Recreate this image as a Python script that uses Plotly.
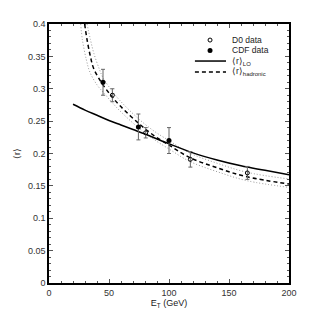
import plotly.graph_objects as go

# ---- data ----
cdf_et = [45.0, 74.5, 100.0]
cdf_r = [0.310, 0.241, 0.220]
cdf_err = [0.020, 0.020, 0.020]

d0_et = [52.8, 80.6, 117.8, 165.3]
d0_r = [0.290, 0.232, 0.191, 0.170]
d0_err = [0.010, 0.008, 0.012, 0.010]

lo_et = [20, 30, 40, 50, 60, 70, 80, 100, 120, 140, 160, 180, 200]
lo_r = [0.276, 0.267, 0.259, 0.251, 0.244, 0.237, 0.230, 0.215, 0.201, 0.190, 0.181, 0.174, 0.167]

had_et = [29.7, 31.7, 34.5, 37.3, 45, 52, 59, 75, 88, 100, 117, 140, 165, 200]
had_r = [0.400, 0.376, 0.350, 0.331, 0.306, 0.289, 0.274, 0.246, 0.227, 0.213, 0.194, 0.178, 0.164, 0.153]

up_et = [31.7, 34.5, 37.5, 42, 45, 52, 59, 75, 88, 100, 117, 140, 165, 200]
up_r = [0.400, 0.376, 0.354, 0.330, 0.317, 0.298, 0.282, 0.253, 0.234, 0.220, 0.201, 0.185, 0.171, 0.1606]

low_et = [26.4, 27.8, 31.1, 34, 40, 45, 52, 59, 75, 88, 100, 117, 140, 165, 200]
low_r = [0.400, 0.376, 0.345, 0.326, 0.306, 0.295, 0.280, 0.266, 0.239, 0.221, 0.207, 0.188, 0.172, 0.158, 0.1477]

x_ticks = [0, 50, 100, 150, 200]
y_ticks = [0, 0.05, 0.1, 0.15, 0.2, 0.25, 0.3, 0.35, 0.4]
y_tick_text = ["0", "0.05", "0.1", "0.15", "0.2", "0.25", "0.3", "0.35", "0.4"]

legend_labels = ["D0 data", "CDF data", "⟨r⟩<sub>LO</sub>", "⟨r⟩<sub>hadronic</sub>"]

fig = go.Figure()

fig.add_trace(go.Scatter(x=up_et, y=up_r, mode="lines",
                         line=dict(color="#999", width=1, dash="1px,2px", shape="spline"),
                         showlegend=False, hoverinfo="skip"))
fig.add_trace(go.Scatter(x=low_et, y=low_r, mode="lines",
                         line=dict(color="#999", width=1, dash="1px,2px", shape="spline"),
                         showlegend=False, hoverinfo="skip"))
fig.add_trace(go.Scatter(x=lo_et, y=lo_r, mode="lines", name="⟨r⟩LO",
                         line=dict(color="black", width=1.5, shape="spline")))
fig.add_trace(go.Scatter(x=had_et, y=had_r, mode="lines", name="⟨r⟩hadronic",
                         line=dict(color="black", width=1.5, dash="4px,3px", shape="spline")))
fig.add_trace(go.Scatter(x=d0_et, y=d0_r, mode="markers", name="D0 data",
                         marker=dict(symbol="circle-open", size=4, color="black", line=dict(width=1)),
                         error_y=dict(type="data", array=d0_err, color="#666", thickness=1, width=2)))
fig.add_trace(go.Scatter(x=cdf_et, y=cdf_r, mode="markers", name="CDF data",
                         marker=dict(symbol="circle", size=5, color="black"),
                         error_y=dict(type="data", array=cdf_err, color="#666", thickness=1, width=2)))

# ---- compact legend (paper coordinates) ----
row_y = [0.938, 0.898, 0.857, 0.815]
sym_x0, sym_x1, sym_xc, text_x = 0.608, 0.7375, 0.671, 0.754
shapes = [
    dict(type="circle", xref="paper", yref="paper", xsizemode="pixel", ysizemode="pixel",
         xanchor=sym_xc, yanchor=row_y[0], x0=-2, x1=2, y0=-2, y1=2,
         line=dict(color="black", width=1), fillcolor="white"),
    dict(type="circle", xref="paper", yref="paper", xsizemode="pixel", ysizemode="pixel",
         xanchor=sym_xc, yanchor=row_y[1], x0=-2.5, x1=2.5, y0=-2.5, y1=2.5,
         line=dict(color="black", width=0), fillcolor="black"),
    dict(type="line", xref="paper", yref="paper", x0=sym_x0, x1=sym_x1, y0=row_y[2], y1=row_y[2],
         line=dict(color="black", width=1.5)),
    dict(type="line", xref="paper", yref="paper", x0=sym_x0, x1=sym_x1, y0=row_y[3], y1=row_y[3],
         line=dict(color="black", width=1.5, dash="4px,3px")),
]
annotations = [
    dict(text=lab, xref="paper", yref="paper", x=text_x, y=yy, xanchor="left", yanchor="middle",
         showarrow=False, font=dict(size=8.5, color="#222"))
    for lab, yy in zip(legend_labels, row_y)
]

axis_common = dict(showline=True, linecolor="black", linewidth=1.5, mirror="ticks",
                   ticks="inside", ticklen=4, tickcolor="#555", showgrid=False, zeroline=False,
                   tickfont=dict(size=9, color="#333"))

fig.update_layout(
    width=306, height=305,
    margin=dict(l=41, r=25, t=16, b=30, autoexpand=False),
    paper_bgcolor="white", plot_bgcolor="white",
    font=dict(family="Liberation Sans, Arial, sans-serif", size=9, color="#222"),
    xaxis=dict(range=[0, 200], tickvals=x_ticks, ticktext=[str(v) for v in x_ticks],
               minor=dict(ticks="inside", ticklen=2, tickcolor="#555", dtick=10),
               title=dict(text="E<sub>T</sub> (GeV)", font=dict(size=9), standoff=3), **axis_common),
    yaxis=dict(range=[0, 0.4], tickvals=y_ticks, ticktext=y_tick_text,
               minor=dict(ticks="inside", ticklen=2, tickcolor="#555", dtick=0.01),
               title=dict(text="⟨r⟩", font=dict(size=9), standoff=6), **axis_common),
    shapes=shapes,
    annotations=annotations,
    showlegend=False,
)

fig.write_html("out.html")
